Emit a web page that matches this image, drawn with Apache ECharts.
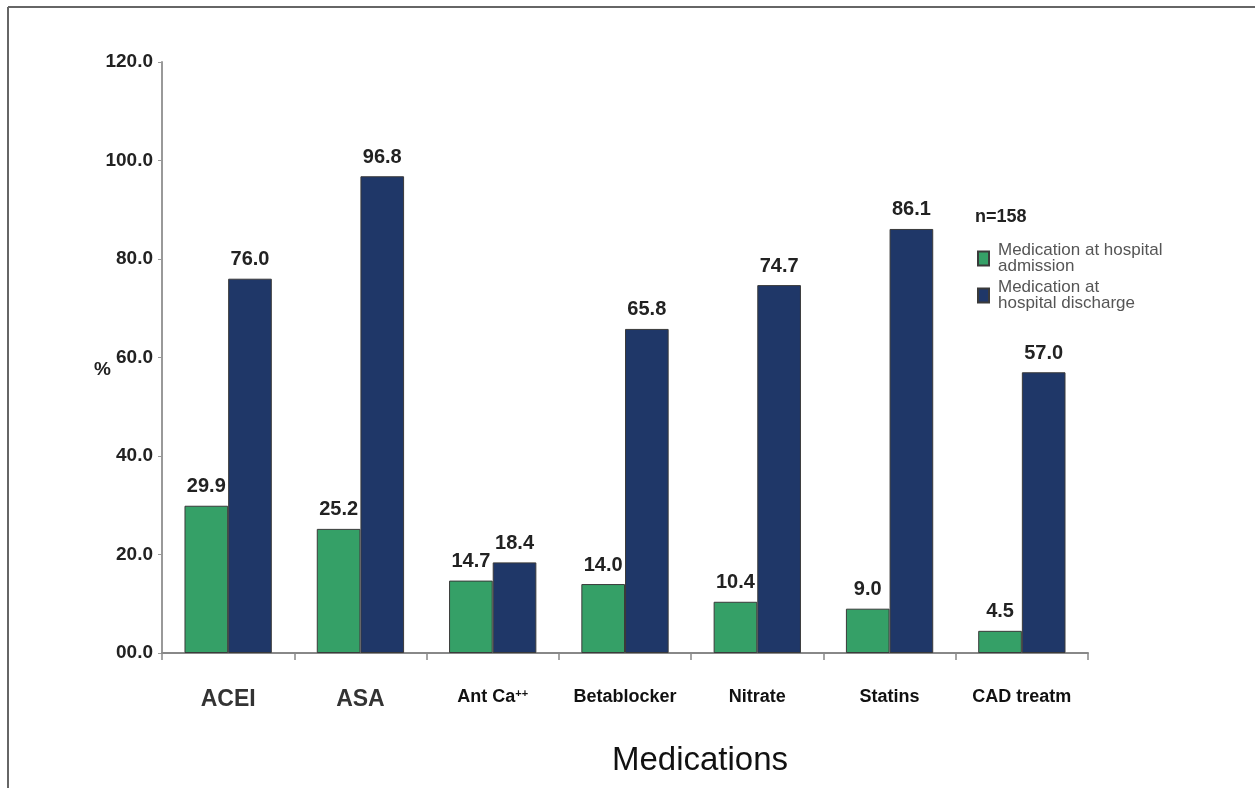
<!DOCTYPE html>
<html>
<head>
<meta charset="utf-8">
<script src="https://cdn.jsdelivr.net/npm/echarts@6/dist/echarts.min.js"></script>
<style>
html,body{margin:0;padding:0;background:#fff;}
#chart{width:1255px;height:788px;}
</style>
</head>
<body>
<div id="chart"></div>
<script>
var categories = ['ACEI', 'ASA', 'Ant Ca++', 'Betablocker', 'Nitrate', 'Statins', 'CAD treatm'];
var admission = [29.9, 25.2, 14.7, 14.0, 10.4, 9.0, 4.5];
var discharge = [76.0, 96.8, 18.4, 65.8, 74.7, 86.1, 57.0];
var yTickLabels = ['00.0', '20.0', '40.0', '60.0', '80.0', '100.0', '120.0'];
var seriesNames = ['Medication at hospital\nadmission', 'Medication at\nhospital discharge'];

var FONT = '"Liberation Sans", Arial, sans-serif';
var chart = echarts.init(document.getElementById('chart'));
var labelStyle = {
  show: true, position: 'top', distance: 9,
  fontFamily: FONT, fontWeight: 'bold', fontSize: 20, color: '#222',
  formatter: function (p) { return p.value.toFixed(1); }
};
chart.setOption({
  animation: false,
  backgroundColor: '#fff',
  grid: { left: 162, right: 167, top: 62, bottom: 135, containLabel: false, outerBoundsMode: 'none' },
  legend: {
    orient: 'vertical', left: 977, top: 242, padding: 0,
    icon: 'rect', itemWidth: 11, itemHeight: 14, itemGap: 4,
    textStyle: { fontFamily: FONT, fontSize: 17, color: '#555', lineHeight: 16, padding: [0, 0, 0, 4] },
    data: seriesNames
  },
  xAxis: {
    type: 'category', data: categories,
    axisLine: { lineStyle: { color: '#888', width: 2 } },
    axisTick: { show: true, interval: 0, length: 7, lineStyle: { color: '#888', width: 1.5 } },
    axisLabel: {
      interval: 0, margin: 35, color: '#111', fontFamily: FONT,
      formatter: function (v, i) {
        if (i < 2) return '{big|' + v + '}';
        if (v === 'Ant Ca++') return '{sm|Ant Ca}{sup|++}';
        return '{sm|' + v + '}';
      },
      rich: {
        big: { fontFamily: FONT, fontSize: 23, fontWeight: 'bold', color: '#333' },
        sm: { fontFamily: FONT, fontSize: 18, fontWeight: 'bold', color: '#111' },
        sup: { fontFamily: FONT, fontSize: 11, fontWeight: 'bold', color: '#111', verticalAlign: 'top', padding: [0, 0, 8, 0] }
      }
    }
  },
  yAxis: {
    type: 'value', min: 0, max: 120, interval: 20,
    axisLine: { show: true, lineStyle: { color: '#999', width: 2 } },
    axisTick: { show: true, length: 4, lineStyle: { color: '#999' } },
    splitLine: { show: false },
    axisLabel: {
      margin: 9, color: '#222', fontFamily: FONT, fontWeight: 'bold', fontSize: 19,
      formatter: function (v) { return yTickLabels[Math.round(v / 20)]; }
    }
  },
  series: [
    {
      name: seriesNames[0], type: 'bar', data: admission,
      barGap: '0%', barCategoryGap: '34%',
      itemStyle: { color: '#35a067', borderColor: '#3a3a3a', borderWidth: 1 },
      label: labelStyle
    },
    {
      name: seriesNames[1], type: 'bar', data: discharge,
      itemStyle: { color: '#1f3768', borderColor: '#3a3a3a', borderWidth: 1 },
      label: labelStyle
    }
  ],
  graphic: [
    { type: 'line', shape: { x1: 8, y1: 7, x2: 1255, y2: 7 }, style: { stroke: '#666', lineWidth: 2 } },
    { type: 'line', shape: { x1: 8, y1: 7, x2: 8, y2: 788 }, style: { stroke: '#666', lineWidth: 2 } },
    { type: 'text', left: 94, top: 360, style: { text: '%', font: 'bold 19px ' + FONT, fill: '#222' } },
    { type: 'text', left: 975, top: 208, style: { text: 'n=158', font: 'bold 18px ' + FONT, fill: '#222' } },
    { type: 'text', x: 700, y: 761, style: { text: 'Medications', font: '33px ' + FONT, fill: '#111', align: 'center', verticalAlign: 'middle' } }
  ]
});
</script>
</body>
</html>
